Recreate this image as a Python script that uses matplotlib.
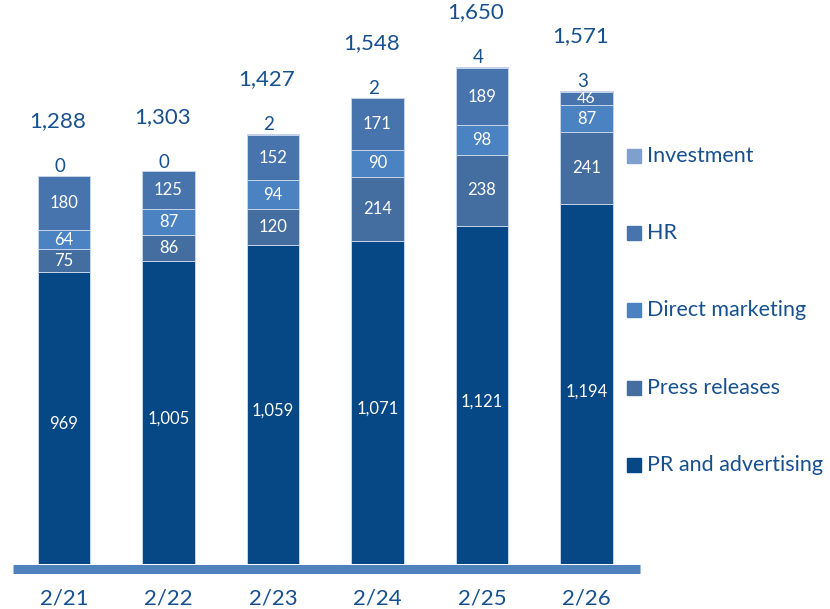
import matplotlib
matplotlib.use('Agg')
import matplotlib.pyplot as plt
from matplotlib.patches import Rectangle
import numpy as np

plt.rcParams['font.family'] = ['Lato', 'DejaVu Sans']

periods = ['2/21', '2/22', '2/23', '2/24', '2/25', '2/26']
series = ['PR and advertising', 'Press releases', 'Direct marketing', 'HR', 'Investment']
pr_adv = [969, 1005, 1059, 1071, 1121, 1194]
press = [75, 86, 120, 214, 238, 241]
direct = [64, 87, 94, 90, 98, 87]
hr = [180, 125, 152, 171, 189, 46]
invest = [0, 0, 2, 2, 4, 3]
totals = [1288, 1303, 1427, 1548, 1650, 1571]

colors = ['#064785', '#446ea0', '#4a82c2', '#4874ad', '#7f9fcf']
txt = '#17508f'

W, H = 830, 609
fig = plt.figure(figsize=(W / 100, H / 100), dpi=100)
ax = fig.add_axes([13 / W, (H - 564) / H, 627 / W, 564 / H])
ax.set_xlim(-0.488, 5.512)
ax.set_ylim(0, 1872)
ax.axis('off')

x = np.arange(len(periods))
data = [pr_adv, press, direct, hr, invest]
bottom = np.zeros(len(periods))
for k, vals in enumerate(data):
    vals = np.array(vals, dtype=float)
    ax.bar(x, vals, 0.5, bottom=bottom, color=colors[k],
           edgecolor='#c6d4ea', linewidth=0.7, zorder=2)
    if k < 4:
        for i, v in enumerate(vals):
            yc = bottom[i] + v / 2
            if k == 0:
                yc = bottom[i] + v * 0.48
            fs = 11.5 if v < 60 else 12
            ax.text(x[i], yc, f'{int(v):,}', ha='center', va='center',
                    color='white', fontsize=fs, zorder=3)
    else:
        for i, v in enumerate(vals):
            ax.text(x[i] - 0.04, bottom[i] + v + 2, f'{int(v)}', ha='center',
                    va='bottom', color=txt, fontsize=13.5, zorder=3)
    bottom += vals

for i, t in enumerate(totals):
    ax.text(x[i] - 0.06, t + 182, f'{t:,}', ha='center', va='center',
            color=txt, fontsize=16)

# thick base line
ax.plot([-0.488, 5.512], [-15, -15], color='#4f81bd', lw=6.5,
        solid_capstyle='butt', clip_on=False, zorder=4)

for i, p in enumerate(periods):
    ax.text(x[i], -113, p, ha='center', va='center', color=txt, fontsize=16,
            clip_on=False)

# legend, drawn by hand, top entry first
ly = [156, 233, 310, 388, 465]
for k, name in enumerate(reversed(series)):
    c = colors[::-1][k]
    yy = ly[k]
    fig.add_artist(Rectangle((627 / W, (H - yy - 7) / H), 14 / W, 14 / H,
                             transform=fig.transFigure, color=c))
    fig.text(647 / W, (H - yy) / H, name, ha='left', va='center',
             color=txt, fontsize=15.5)

fig.savefig('out.png', dpi=100)
